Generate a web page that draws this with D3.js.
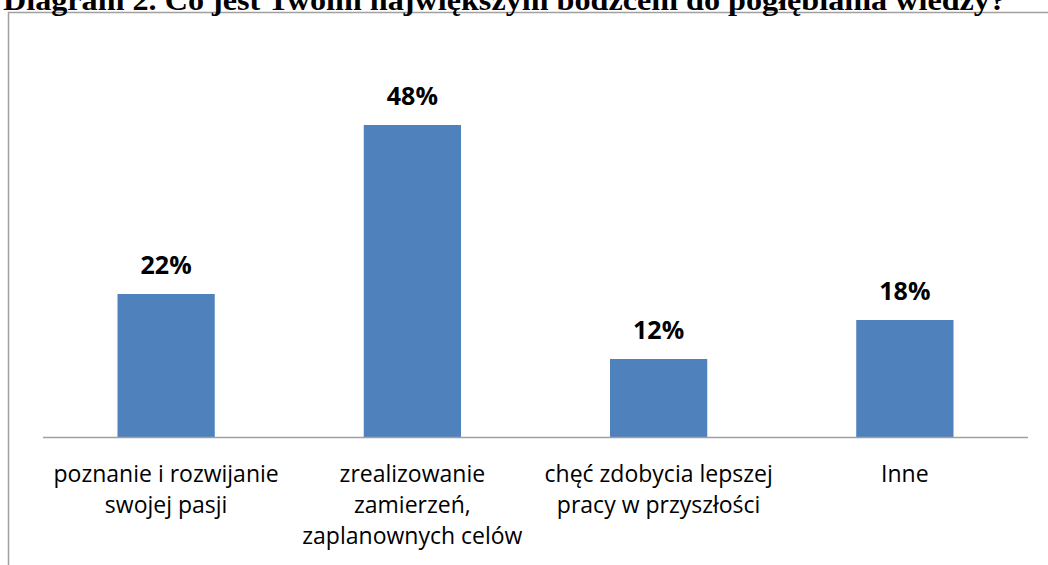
<!DOCTYPE html>
<html lang="pl">
<head>
    <meta charset="UTF-8">
    <title>Diagram 2</title>
    <script src="https://d3js.org/d3.v7.min.js"></script>
</head>
<style>
    body {
        margin: 0;
        padding: 0;
        background: #fff;
    }
    svg {
        display: block;
    }
</style>
<body>
<div class="chart-container"></div>
<script>
  /** DATA **/
  var categories = [
    ['poznanie i rozwijanie', 'swojej pasji'],
    ['zrealizowanie', 'zamierzeń,', 'zaplanownych celów'],
    ['chęć zdobycia lepszej', 'pracy w przyszłości'],
    ['Inne']
  ];
  var percentValues = [22, 48, 12, 18];
  var titleText = 'Diagram 2. Co jest Twoim największym bodźcem do pogłębiania wiedzy?';

  /** LAYOUT */
  var width = 1048;
  var height = 565;
  var plotLeft = 43;
  var plotRight = 1028;
  var baselineY = 437;
  var pxPerPercent = 6.5;

  var svg_selection = d3.select('.chart-container')
    .append('svg')
    .attr('width', width)
    .attr('height', height);

  /** chart frame (only top and left edges are visible in the crop) */
  svg_selection.append('path')
    .attr('d', 'M8.5,' + height + ' L8.5,12.5 L' + width + ',12.5')
    .attr('fill', 'none')
    .attr('stroke', '#a0a0a0')
    .attr('stroke-width', 1.5);

  /** title, cut by the top edge like in the source */
  svg_selection.append('text')
    .attr('x', 3)
    .attr('y', 9.5)
    .style('font-family', '"Liberation Serif", "Times New Roman", serif')
    .style('font-weight', 'bold')
    .style('font-size', '29px')
    .attr('textLength', 1003)
    .attr('lengthAdjust', 'spacingAndGlyphs')
    .text(titleText);

  var xScale = d3.scaleBand()
    .domain(d3.range(categories.length))
    .range([plotLeft, plotRight])
    .paddingInner(0.605)
    .paddingOuter(0.3025);

  var yScale = d3.scaleLinear()
    .domain([0, 100])
    .range([baselineY, baselineY - 100 * pxPerPercent]);

  /** bars */
  svg_selection.append('g')
    .selectAll('rect')
    .data(percentValues)
    .enter().append('rect')
    .attr('x', function (d, i) { return xScale(i); })
    .attr('y', function (d) { return yScale(d); })
    .attr('width', xScale.bandwidth())
    .attr('height', function (d) { return yScale(0) - yScale(d); })
    .attr('fill', '#4f81bd');

  /** value labels */
  svg_selection.append('g')
    .selectAll('text')
    .data(percentValues)
    .enter().append('text')
    .attr('x', function (d, i) { return xScale(i) + xScale.bandwidth() / 2; })
    .attr('y', function (d) { return yScale(d) - 20; })
    .style('text-anchor', 'middle')
    .style('font-family', '"Open Sans", "Noto Sans", sans-serif')
    .style('font-weight', 'bold')
    .style('font-size', '25px')
    .text(function (d) { return d + '%'; });

  /** x axis line */
  var xAxis = d3.axisBottom(xScale).tickSize(0).tickFormat('');
  var axis_selection = svg_selection.append('g')
    .attr('transform', 'translate(0,' + baselineY + ')')
    .call(xAxis);
  axis_selection.select('.domain')
    .attr('d', 'M' + plotLeft + ',0.5H' + plotRight)
    .attr('stroke', '#a0a0a0')
    .attr('stroke-width', 1.5);

  /** category labels (multi-line) */
  var labelLineHeight = 31;
  svg_selection.append('g')
    .selectAll('text')
    .data(categories)
    .enter().append('text')
    .style('text-anchor', 'middle')
    .style('font-family', '"Open Sans", "Noto Sans", sans-serif')
    .style('font-size', '23px')
    .attr('fill', '#000')
    .each(function (lines, i) {
      var cx = xScale(i) + xScale.bandwidth() / 2;
      d3.select(this).selectAll('tspan')
        .data(lines)
        .enter().append('tspan')
        .attr('x', cx)
        .attr('y', function (_, j) { return 482 + j * labelLineHeight; })
        .text(function (line) { return line; });
    });
</script>
</body>
</html>
